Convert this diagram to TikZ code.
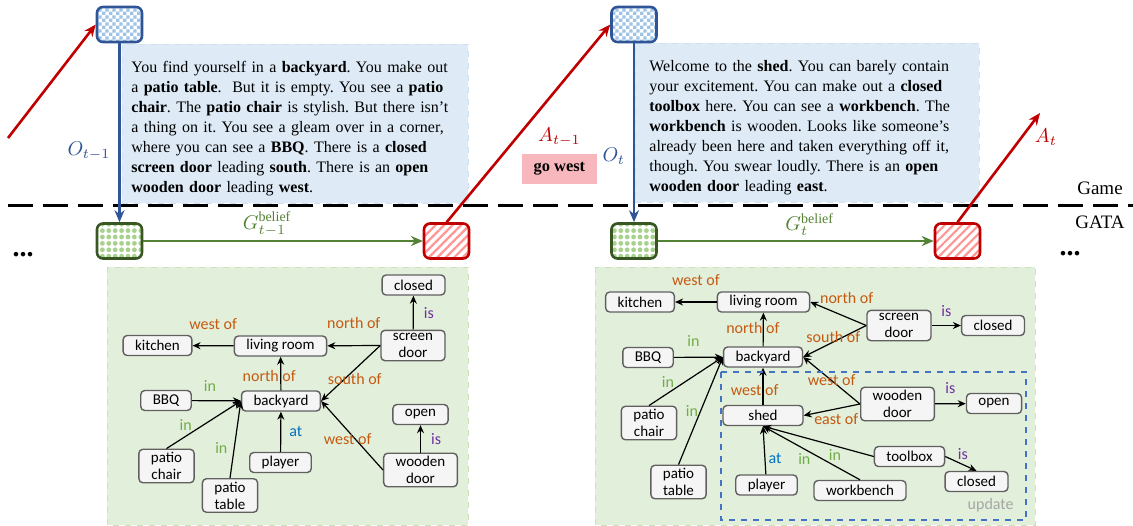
\documentclass[tikz,border=0pt]{standalone}
\usepackage{fontspec}
\setmainfont{Liberation Serif}
\newfontfamily\grfont{Carlito}
\usepackage{amsmath}
\usetikzlibrary{positioning, arrows.meta, patterns, patterns.meta}

\definecolor{obsblue}{RGB}{47,85,151}
\definecolor{obslight}{RGB}{157,195,230}
\definecolor{txtblue}{RGB}{222,235,247}
\definecolor{belgreen}{RGB}{56,87,35}
\definecolor{belmid}{RGB}{84,130,53}
\definecolor{bellight}{RGB}{169,209,142}
\definecolor{panelgreen}{RGB}{226,239,218}
\definecolor{actred}{RGB}{192,0,0}
\definecolor{actlight}{RGB}{255,150,150}
\definecolor{gopink}{RGB}{247,183,189}
\definecolor{relorange}{RGB}{197,90,17}
\definecolor{relgreen}{RGB}{112,173,71}
\definecolor{relpurple}{RGB}{112,48,160}
\definecolor{relblue}{RGB}{0,112,192}
\definecolor{updblue}{RGB}{68,114,196}

\pgfdeclarepatternformonly{finechecker}{\pgfpointorigin}{\pgfqpoint{3.4pt}{3.4pt}}{\pgfqpoint{3.4pt}{3.4pt}}{%
  \pgfpathrectangle{\pgfpointorigin}{\pgfqpoint{1.7pt}{1.7pt}}%
  \pgfpathrectangle{\pgfqpoint{1.7pt}{1.7pt}}{\pgfqpoint{1.7pt}{1.7pt}}%
  \pgfusepath{fill}}

\begin{document}
\begin{tikzpicture}[
    x=0.5pt, y=-0.5pt,
    >=Stealth,
    statebox/.style={rounded corners=3pt, line width=1.3pt, minimum width=22.5pt, minimum height=17.5pt, inner sep=0pt, preaction={fill=white}},
    obsbox/.style={statebox, draw=obsblue, pattern=finechecker, pattern color=obslight},
    beliefbox/.style={statebox, draw=belgreen, pattern={Dots[radius=1.2pt,distance=3.2pt]}, pattern color=bellight},
    actbox/.style={statebox, draw=actred, pattern={Lines[angle=45,distance=3pt,line width=1.1pt]}, pattern color=actlight},
    obstext/.style={fill=txtblue, draw=obslight!50, dashed, line width=0.4pt, align=left, font=\fontsize{8}{10}\selectfont\frenchspacing, inner ysep=3.5pt, minimum height=79.5pt, anchor=north west},
    panel/.style={fill=panelgreen, draw=bellight!60, dashed, line width=0.4pt},
    ent/.style={draw=gray!75!black, fill=gray!8, rounded corners=2pt, line width=0.7pt, align=center, font=\grfont\fontsize{7.5}{8.5}\selectfont, inner xsep=6pt, inner ysep=1.5pt, minimum height=10pt},
    rel/.style={font=\grfont\fontsize{8}{9}\selectfont, text=relorange, inner sep=0pt},
    relin/.style={rel, text=relgreen},
    relis/.style={rel, text=relpurple},
    relat/.style={rel, text=relblue},
    gedge/.style={-{Stealth[length=4pt,width=3.5pt]}, line width=0.6pt},
    obsflow/.style={draw=obsblue, line width=1.2pt, -{Stealth[length=6pt,width=5pt]}},
    beliefflow/.style={draw=belmid, line width=1.2pt, -{Stealth[length=6pt,width=5pt]}},
    actflow/.style={draw=actred, line width=1.3pt, -{Stealth[length=6pt,width=5pt]}},
    mlabel/.style={font=\fontsize{10}{12}\selectfont, inner sep=1pt},
    lane/.style={font=\fontsize{9.5}{11}\selectfont, inner sep=0pt}
]
\useasboundingbox (0,0) rectangle (1133,525);

\fill[panel] (107,267) rectangle (468,525);
\fill[panel] (595,267) rectangle (1035,525);
\draw[panel, fill=none] (107,267) rectangle (468,525);
\draw[panel, fill=none] (595,267) rectangle (1035,525);

\node[obstext, text width=164pt, inner xsep=4.5pt] (txtL) at (122,44) {\rule{0pt}{10.6pt}You find yourself in a \textbf{backyard}. You make out\\
a \textbf{patio table}.\ \ But it is empty. You see a \textbf{patio}\\
\textbf{chair}. The \textbf{patio chair} is stylish. But there isn’t\\
a thing on it. You see a gleam over in a corner,\\
where you can see a \textbf{BBQ}. There is a \textbf{closed}\\
\textbf{screen door} leading \textbf{south}. There is an \textbf{open}\\
\textbf{wooden door} leading \textbf{west}.};
\node[obstext, text width=158pt, inner xsep=7pt] (txtR) at (635,43) {\rule{0pt}{10.6pt}Welcome to the \textbf{shed}. You can barely contain\\
your excitement. You can make out a \textbf{closed}\\
\textbf{toolbox} here. You can see a \textbf{workbench}. The\\
\textbf{workbench} is wooden. Looks like someone’s\\
already been here and taken everything off it,\\
though. You swear loudly. There is an \textbf{open}\\
\textbf{wooden door} leading \textbf{east}.};

\draw[line width=1.5pt, dash pattern=on 12.5pt off 5pt] (8,205) -- (1133,205);
\node[lane] (game) at (1100,188) {Game};
\node[lane] (gata) at (1100,222) {GATA};

\node[obsbox] (obsL) at (119.5,24.5) {};
\node[obsbox] (obsR) at (634,24.5) {};
\node[beliefbox] (belL) at (119.5,241) {};
\node[beliefbox] (belR) at (634,241) {};
\node[actbox] (actL) at (446.5,241) {};
\node[actbox] (actR) at (957.5,241) {};
\coordinate (prevact) at (8,138);
\coordinate (nextact) at (1040,113);

\draw[actflow] (prevact) -- (obsL.west);
\draw[actflow] (actL.north) -- node[mlabel, text=actred, pos=.43, right=9pt] (alast) {$A_{t-1}$} (obsR.west);
\draw[actflow] (actR.north) -- node[mlabel, text=actred, pos=.775, right=5pt] {$A_t$} (nextact);
\node[fill=gopink, minimum width=37.5pt, minimum height=15pt, inner sep=0pt, font=\bfseries\fontsize{8.2}{10}\selectfont, below=2pt of alast] (gowest) {go west};

\draw[obsflow] (obsL) -- node[mlabel, text=obsblue, pos=.6, left=3pt] {$O_{t-1}$} (belL);
\draw[obsflow] (obsR) -- node[mlabel, text=obsblue, pos=.63, left=3pt] {$O_t$} (belR);
\draw[beliefflow] (belL) -- node[mlabel, text=belmid, above=1pt, xshift=-8pt] {$G_{t-1}^{\mathrm{belief}}$} (actL);
\draw[beliefflow] (belR) -- node[mlabel, text=belmid, above=1pt, xshift=7pt] {$G_{t}^{\mathrm{belief}}$} (actR);

\node[font=\bfseries\fontsize{14}{14}\selectfont, inner sep=0pt] (dotsL) at (23,255) {...};
\node[font=\bfseries\fontsize{14}{14}\selectfont, inner sep=0pt] (dotsR) at (1070,254) {...};

\node[ent] (clsL) at (413.5,285) {closed};
\node[ent] (scrL) at (413,345.5) {screen\\door};
\node[ent] (kitL) at (157.5,345.5) {kitchen};
\node[ent] (livL) at (280.5,346) {living room};
\node[ent] (bydL) at (281,401) {backyard};
\node[ent] (bbqL) at (166,400.5) {BBQ};
\node[ent] (chrL) at (166.5,466) {patio\\chair};
\node[ent] (tblL) at (230,495.5) {patio\\table};
\node[ent] (plyL) at (280.5,462.5) {player};
\node[ent] (opnL) at (420.5,414.5) {open};
\node[ent] (wdnL) at (420.5,470) {wooden\\door};

\draw[gedge] (livL) -- node[rel, above=8pt] {west of} (kitL);
\draw[gedge] (scrL.west) -- node[rel, above=8pt] {north of} (livL);
\draw[gedge] (scrL.west) -- node[rel, xshift=2pt, yshift=-3pt] {south of} (bydL.east);
\draw[gedge] (scrL) -- node[relis, right=5pt] {is} (clsL);
\draw[gedge] (bydL) -- node[rel, xshift=-5.75pt, yshift=-1.2pt] {north of} (livL);
\draw[gedge] (bbqL) -- node[relin, above=4.5pt, xshift=-3.2pt] {in} (bydL);
\draw[gedge] (chrL.north) -- node[relin, xshift=-9pt] {in} (bydL.west);
\draw[gedge] (tblL.north) -- node[relin, pos=.4, xshift=-6.5pt, yshift=-0.5pt] {in} (bydL.west);
\draw[gedge] (plyL) -- node[relat, right=4pt] {at} (bydL);
\draw[gedge] (wdnL.west) -- node[rel, xshift=-2.2pt, yshift=-1.7pt] {west of} (bydL.east);
\draw[gedge] (wdnL) -- node[relis, right=5pt] {is} (opnL);

\node[ent] (kitR) at (640,302) {kitchen};
\node[ent] (livR) at (763.5,302) {living room};
\node[ent] (scrR) at (899,325.5) {screen\\door};
\node[ent] (clsR) at (993,325.5) {closed};
\node[ent] (bbqR) at (648,357.5) {BBQ};
\node[ent] (bydR) at (763,357) {backyard};
\node[ent] (chrR) at (649,423) {patio\\chair};
\node[ent] (tblR) at (678.5,482) {patio\\table};
\node[ent, minimum width=40pt] (shdR) at (763,415.5) {shed};
\node[ent] (wdnR) at (897.5,404) {wooden\\door};
\node[ent] (opnR) at (994,403.5) {open};
\node[ent] (toolR) at (909.5,456.5) {toolbox};
\node[ent] (clsbR) at (976.5,481.5) {closed};
\node[ent] (plyR) at (766.5,485) {player};
\node[ent] (wbR) at (860,490.5) {workbench};

\draw[gedge] (livR) -- node[rel, above=8pt] {west of} (kitR);
\draw[gedge] (scrR.west) -- node[rel, xshift=4.2pt, yshift=7.9pt] {north of} (livR.east);
\draw[gedge] (scrR.west) -- node[rel, xshift=-0.7pt, yshift=2.2pt] {south of} (bydR.east);
\draw[gedge] (scrR) -- node[relis, above=4pt] {is} (clsR);
\draw[gedge] (bydR) -- node[rel, xshift=-5.2pt, yshift=0.6pt] {north of} (livR);
\draw[gedge] (bbqR) -- node[relin, above=5pt, xshift=-2.5pt] {in} (bydR);
\draw[gedge] (chrR.north) -- node[relin, xshift=-9pt, yshift=-0.5pt] {in} (bydR.west);
\draw[gedge] (tblR.north) -- node[relin, xshift=-4.4pt] {in} (bydR.west);
\draw[gedge] (shdR) -- node[rel, xshift=-4.2pt, yshift=-1.7pt] {west of} (bydR);
\draw[gedge] (wdnR.west) -- node[rel] {west of} (bydR.east);
\draw[gedge] (wdnR.west) -- node[rel, xshift=2.2pt, yshift=-4.8pt] {east of} (shdR.east);
\draw[gedge] (wdnR) -- node[relis, above=5pt] {is} (opnR);
\draw[gedge] (plyR) -- node[relat, pos=.33, right=1.5pt] {at} (shdR.south);
\draw[gedge] (wbR.north) -- node[relin, xshift=-3.6pt, yshift=-2.8pt] {in} (shdR.south);
\draw[gedge] (toolR.west) -- node[relin, pos=.35, yshift=-4.7pt] {in} (shdR.south);
\draw[gedge] (toolR.east) -- node[relis, xshift=1pt, yshift=5pt] {is} (clsbR.north);

\draw[draw=updblue, dashed, line width=0.8pt] (721,372) rectangle (1026,520);
\node[rel, text=gray!70, anchor=east] (updtxt) at (1014,505) {update};
\end{tikzpicture}
\end{document}
